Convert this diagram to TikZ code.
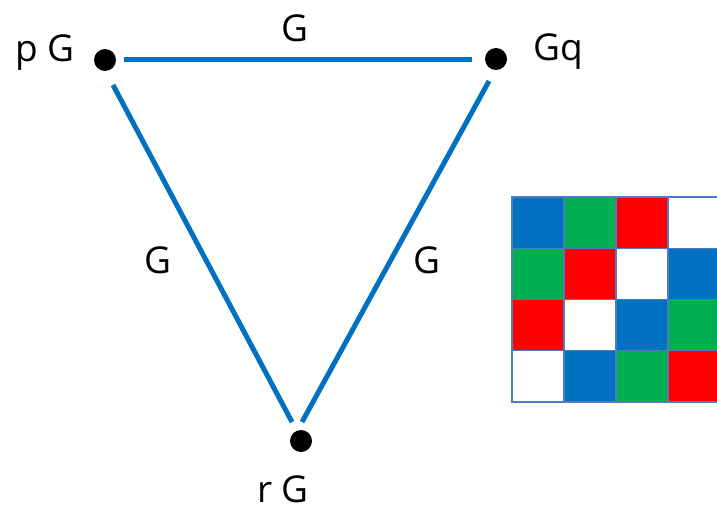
\documentclass[tikz,border=0pt]{standalone}
\usepackage{fontspec}
\setmainfont{Open Sans}
\definecolor{lblue}{HTML}{0070C0}
\definecolor{lgreen}{HTML}{00B050}
\definecolor{lred}{HTML}{FF0000}
\definecolor{gridc}{HTML}{4F7BC0}
\begin{document}
\begin{tikzpicture}[x=1pt,y=-1pt,
  dot/.style={circle,fill=black,inner sep=0pt,minimum size=22pt},
  edge/.style={draw=lblue,line width=5pt},
  lab/.style={font=\fontsize{37}{40}\selectfont,inner sep=0pt,anchor=base},
  cell/.style={draw=gridc,line width=1.2pt}]
\useasboundingbox (0,0) rectangle (717,508);
\clip (0,0) rectangle (717,508);
% vertices
\node[dot] (p) at (105,60) {};
\node[dot] (q) at (496,59) {};
\node[dot] (r) at (301,441) {};
% edge end points
\coordinate (pq1) at (124,60);
\coordinate (pq2) at (472,60);
\coordinate (pr1) at (113,85);
\coordinate (pr2) at (292,422);
\coordinate (qr1) at (489,81);
\coordinate (qr2) at (302,422);
\draw[edge] (pq1) -- (pq2);
\draw[edge] (pr1) -- (pr2);
\draw[edge] (qr1) -- (qr2);
% labels
\node[lab] (lp) at (45,62) {p G};
\node[lab] (lq) at (558,61) {Gq};
\node[lab] (lr) at (283,502) {r G};
\node[lab] (gtop) at (294.5,42) {G};
\node[lab] (gleft) at (157.5,273) {G};
\node[lab] (gright) at (427,273) {G};
% grid
\foreach \row/\cols in {0/{lblue,lgreen,lred,white},1/{lgreen,lred,white,lblue},2/{lred,white,lblue,lgreen},3/{white,lblue,lgreen,lred}}{
  \foreach \c [count=\i from 0] in \cols {
    \path[cell,fill=\c] (512+52*\i,197+51.25*\row) rectangle ++(52,51.25);
  }
}
\draw[gridc,line width=2pt] (721,197) -- (512,197) -- (512,402) -- (721,402);
\end{tikzpicture}
\end{document}
